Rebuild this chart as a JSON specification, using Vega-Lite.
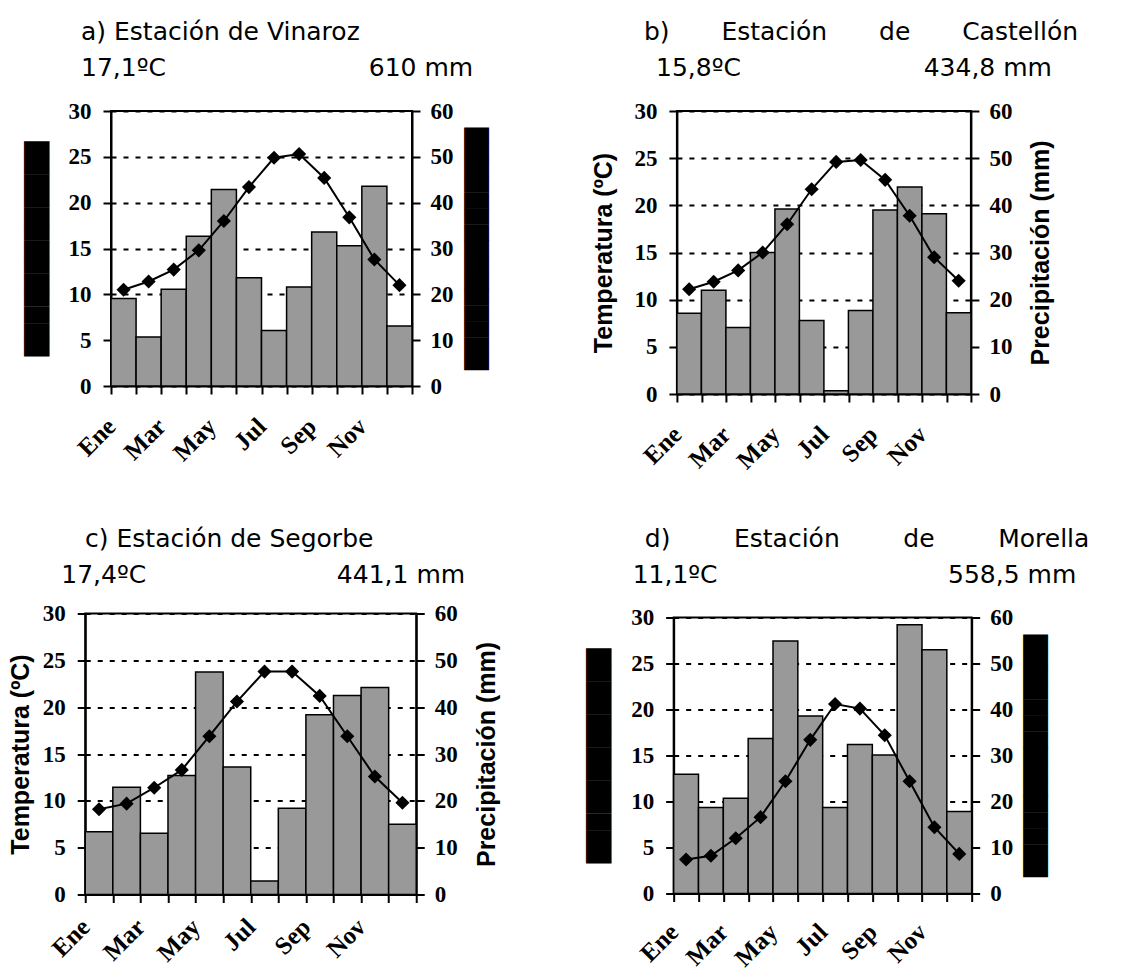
{
  "$schema": "https://vega.github.io/schema/vega-lite/v6.json",
  "padding": {"left": 7, "top": 19, "right": 2, "bottom": 2},
  "datasets": {
    "vinaroz": [
      {"mes": "Ene", "temp": 10.5, "precip": 19.1},
      {"mes": "Feb", "temp": 11.4, "precip": 10.7},
      {"mes": "Mar", "temp": 12.7, "precip": 21.1},
      {"mes": "Abr", "temp": 14.8, "precip": 32.7},
      {"mes": "May", "temp": 18.0, "precip": 42.9},
      {"mes": "Jun", "temp": 21.7, "precip": 23.6},
      {"mes": "Jul", "temp": 24.9, "precip": 12.1},
      {"mes": "Ago", "temp": 25.3, "precip": 21.6},
      {"mes": "Sep", "temp": 22.7, "precip": 33.6},
      {"mes": "Oct", "temp": 18.4, "precip": 30.6},
      {"mes": "Nov", "temp": 13.8, "precip": 43.6},
      {"mes": "Dic", "temp": 11.0, "precip": 13.1}
    ],
    "castellon": [
      {"mes": "Ene", "temp": 11.1, "precip": 17.1},
      {"mes": "Feb", "temp": 11.9, "precip": 22.0},
      {"mes": "Mar", "temp": 13.1, "precip": 14.1},
      {"mes": "Abr", "temp": 15.0, "precip": 30.0},
      {"mes": "May", "temp": 18.0, "precip": 39.2},
      {"mes": "Jun", "temp": 21.7, "precip": 15.6},
      {"mes": "Jul", "temp": 24.6, "precip": 0.7},
      {"mes": "Ago", "temp": 24.8, "precip": 17.7},
      {"mes": "Sep", "temp": 22.7, "precip": 39.0},
      {"mes": "Oct", "temp": 18.9, "precip": 43.9},
      {"mes": "Nov", "temp": 14.5, "precip": 38.2},
      {"mes": "Dic", "temp": 12.0, "precip": 17.2}
    ],
    "segorbe": [
      {"mes": "Ene", "temp": 9.1, "precip": 13.4},
      {"mes": "Feb", "temp": 9.7, "precip": 22.9},
      {"mes": "Mar", "temp": 11.4, "precip": 13.1},
      {"mes": "Abr", "temp": 13.3, "precip": 25.4},
      {"mes": "May", "temp": 16.9, "precip": 47.5},
      {"mes": "Jun", "temp": 20.6, "precip": 27.2},
      {"mes": "Jul", "temp": 23.8, "precip": 2.9},
      {"mes": "Ago", "temp": 23.8, "precip": 18.4},
      {"mes": "Sep", "temp": 21.2, "precip": 38.4},
      {"mes": "Oct", "temp": 16.9, "precip": 42.5},
      {"mes": "Nov", "temp": 12.6, "precip": 44.2},
      {"mes": "Dic", "temp": 9.8, "precip": 15.0}
    ],
    "morella": [
      {"mes": "Ene", "temp": 3.7, "precip": 25.9},
      {"mes": "Feb", "temp": 4.1, "precip": 18.7},
      {"mes": "Mar", "temp": 6.0, "precip": 20.7},
      {"mes": "Abr", "temp": 8.3, "precip": 33.7},
      {"mes": "May", "temp": 12.2, "precip": 54.9},
      {"mes": "Jun", "temp": 16.7, "precip": 38.6},
      {"mes": "Jul", "temp": 20.6, "precip": 18.7},
      {"mes": "Ago", "temp": 20.1, "precip": 32.4},
      {"mes": "Sep", "temp": 17.2, "precip": 30.1},
      {"mes": "Oct", "temp": 12.2, "precip": 58.4},
      {"mes": "Nov", "temp": 7.2, "precip": 53.0},
      {"mes": "Dic", "temp": 4.3, "precip": 17.8}
    ]
  },
  "hconcat": [
    {
      "vconcat": [
        {
          "width": 301, "height": 275,
          "title": {"text": ["a) Estación de Vinaroz", "17,1ºC\u00a0\u00a0\u00a0\u00a0\u00a0\u00a0\u00a0\u00a0\u00a0\u00a0\u00a0\u00a0\u00a0\u00a0\u00a0\u00a0\u00a0\u00a0\u00a0\u00a0\u00a0\u00a0\u00a0\u00a0\u00a0\u2006610 mm"], "dx": -30, "offset": 19},
          "data": {"name": "vinaroz"},
          "encoding": {
            "x": {"field": "mes", "type": "nominal", "sort": null, "scale": {"paddingInner": 0, "paddingOuter": 0},
                  "axis": {"title": null, "tickBand": "extent", "labelOffset": -12.5, "labelAngle": -45, "labelAlign": "right", "labelBaseline": "middle", "labelPadding": 28, "labelFontSize": 25, "labelOverlap": false,
                           "labelExpr": "indexof(['Ene','Mar','May','Jul','Sep','Nov'], datum.value) >= 0 ? datum.value : ''"}}
          },
          "layer": [
            {"mark": {"type": "bar", "fill": "#999999", "stroke": "black", "strokeWidth": 1.5},
             "encoding": {"y": {"field": "precip", "type": "quantitative", "scale": {"domain": [0, 60]},
                                "axis": {"orient": "right", "values": [0, 10, 20, 30, 40, 50, 60], "grid": false, "labelPadding": 10,
                                         "title": "\u2588\u2588\u2588\u2588\u2588\u2588\u2588\u2588\u2588\u2588\u2588\u2588\u2588\u2588\u2588", "titleFont": "DejaVu Sans", "titleFontWeight": "normal", "titleFontSize": 21, "titleAngle": 270, "titleBaseline": "top", "titlePadding": 13}}}},
            {"mark": {"type": "line", "color": "black", "strokeWidth": 2, "point": {"shape": "diamond", "filled": true, "color": "black", "size": 200}},
             "encoding": {"y": {"field": "temp", "type": "quantitative", "scale": {"domain": [0, 30]},
                                "axis": {"orient": "left", "values": [0, 5, 10, 15, 20, 25, 30], "grid": true, "gridColor": "black", "gridWidth": 2, "gridDash": [5, 7], "labelPadding": 12,
                                         "title": "\u2588\u2588\u2588\u2588\u2588\u2588\u2588\u2588\u2588\u2588\u2588\u2588\u2588", "titleFont": "DejaVu Sans", "titleFontWeight": "normal", "titleFontSize": 21.5, "titlePadding": 20}}}}
          ],
          "resolve": {"scale": {"y": "independent"}}
        },
        {
          "width": 331, "height": 281,
          "title": {"text": ["\u200b\u00a0\u00a0\u00a0c) Estación de Segorbe", "17,4ºC\u00a0\u00a0\u00a0\u00a0\u00a0\u00a0\u00a0\u00a0\u00a0\u00a0\u00a0\u00a0\u00a0\u00a0\u00a0\u00a0\u00a0\u00a0\u00a0\u00a0\u00a0\u00a0\u00a0\u00a0441,1 mm\u00a0\u00a0\u00a0\u00a0\u00a0\u00a0\u200b"], "dx": -24, "offset": 15},
          "data": {"name": "segorbe"},
          "encoding": {
            "x": {"field": "mes", "type": "nominal", "sort": null, "scale": {"paddingInner": 0, "paddingOuter": 0},
                  "axis": {"title": null, "tickBand": "extent", "labelOffset": -13.8, "labelAngle": -45, "labelAlign": "right", "labelBaseline": "middle", "labelPadding": 20, "labelFontSize": 25, "labelOverlap": false,
                           "labelExpr": "indexof(['Ene','Mar','May','Jul','Sep','Nov'], datum.value) >= 0 ? datum.value : ''"}}
          },
          "layer": [
            {"mark": {"type": "bar", "fill": "#999999", "stroke": "black", "strokeWidth": 1.5},
             "encoding": {"y": {"field": "precip", "type": "quantitative", "scale": {"domain": [0, 60]},
                                "axis": {"orient": "right", "values": [0, 10, 20, 30, 40, 50, 60], "grid": false, "labelPadding": 10,
                                         "title": "Precipitación (mm)", "titleAngle": 270, "titleBaseline": "top", "titlePadding": 17}}}},
            {"mark": {"type": "line", "color": "black", "strokeWidth": 2, "point": {"shape": "diamond", "filled": true, "color": "black", "size": 200}},
             "encoding": {"y": {"field": "temp", "type": "quantitative", "scale": {"domain": [0, 30]},
                                "axis": {"orient": "left", "values": [0, 5, 10, 15, 20, 25, 30], "grid": true, "gridColor": "black", "gridWidth": 2, "gridDash": [5, 7], "labelPadding": 12,
                                         "title": "Temperatura (ºC)", "titlePadding": 9}}}}
          ],
          "resolve": {"scale": {"y": "independent"}}
        }
      ],
      "center": true,
      "spacing": 58.5
    },
    {
      "vconcat": [
        {
          "width": 294, "height": 283,
          "title": {"text": ["b)\u00a0\u00a0\u00a0\u00a0\u00a0\u00a0\u2006Estación\u00a0\u00a0\u00a0\u00a0\u00a0\u00a0\u2006de\u00a0\u00a0\u00a0\u00a0\u00a0\u00a0\u2006Castellón\u00a0\u200b", "\u200b\u00a0\u200615,8ºC\u00a0\u00a0\u00a0\u00a0\u00a0\u00a0\u00a0\u00a0\u00a0\u00a0\u00a0\u00a0\u00a0\u00a0\u00a0\u00a0\u00a0\u00a0\u00a0\u00a0\u00a0\u00a0\u00a0434,8 mm"], "dx": -33, "offset": 19},
          "data": {"name": "castellon"},
          "encoding": {
            "x": {"field": "mes", "type": "nominal", "sort": null, "scale": {"paddingInner": 0, "paddingOuter": 0},
                  "axis": {"title": null, "tickBand": "extent", "labelOffset": -12.25, "labelAngle": -45, "labelAlign": "right", "labelBaseline": "middle", "labelPadding": 28, "labelFontSize": 25, "labelOverlap": false,
                           "labelExpr": "indexof(['Ene','Mar','May','Jul','Sep','Nov'], datum.value) >= 0 ? datum.value : ''"}}
          },
          "layer": [
            {"mark": {"type": "bar", "fill": "#999999", "stroke": "black", "strokeWidth": 1.5},
             "encoding": {"y": {"field": "precip", "type": "quantitative", "scale": {"domain": [0, 60]},
                                "axis": {"orient": "right", "values": [0, 10, 20, 30, 40, 50, 60], "grid": false, "labelPadding": 10,
                                         "title": "Precipitación (mm)", "titleAngle": 270, "titleBaseline": "top", "titlePadding": 17}}}},
            {"mark": {"type": "line", "color": "black", "strokeWidth": 2, "point": {"shape": "diamond", "filled": true, "color": "black", "size": 200}},
             "encoding": {"y": {"field": "temp", "type": "quantitative", "scale": {"domain": [0, 30]},
                                "axis": {"orient": "left", "values": [0, 5, 10, 15, 20, 25, 30], "grid": true, "gridColor": "black", "gridWidth": 2, "gridDash": [5, 7], "labelPadding": 12,
                                         "title": "Temperatura (ºC)", "titlePadding": 17}}}}
          ],
          "resolve": {"scale": {"y": "independent"}}
        },
        {
          "width": 298, "height": 276,
          "title": {"text": ["\u200b\u00a0\u2006d)\u00a0\u00a0\u00a0\u00a0\u00a0\u00a0\u00a0\u00a0Estación\u00a0\u00a0\u00a0\u00a0\u00a0\u00a0\u00a0\u00a0de\u00a0\u00a0\u00a0\u00a0\u00a0\u00a0\u00a0\u00a0Morella", "11,1ºC\u00a0\u00a0\u00a0\u00a0\u00a0\u00a0\u00a0\u00a0\u00a0\u00a0\u00a0\u00a0\u00a0\u00a0\u00a0\u00a0\u00a0\u00a0\u00a0\u00a0\u00a0\u00a0\u00a0\u00a0\u00a0\u00a0\u00a0\u00a0\u00a0558,5 mm"], "dx": -41, "offset": 19},
          "data": {"name": "morella"},
          "encoding": {
            "x": {"field": "mes", "type": "nominal", "sort": null, "scale": {"paddingInner": 0, "paddingOuter": 0},
                  "axis": {"title": null, "tickBand": "extent", "labelOffset": -12.4, "labelAngle": -45, "labelAlign": "right", "labelBaseline": "middle", "labelPadding": 26, "labelFontSize": 25, "labelOverlap": false,
                           "labelExpr": "indexof(['Ene','Mar','May','Jul','Sep','Nov'], datum.value) >= 0 ? datum.value : ''"}}
          },
          "layer": [
            {"mark": {"type": "bar", "fill": "#999999", "stroke": "black", "strokeWidth": 1.5},
             "encoding": {"y": {"field": "precip", "type": "quantitative", "scale": {"domain": [0, 60]},
                                "axis": {"orient": "right", "values": [0, 10, 20, 30, 40, 50, 60], "grid": false, "labelPadding": 10,
                                         "title": "\u2588\u2588\u2588\u2588\u2588\u2588\u2588\u2588\u2588\u2588\u2588\u2588\u2588\u2588\u2588", "titleFont": "DejaVu Sans", "titleFontWeight": "normal", "titleFontSize": 21, "titleAngle": 270, "titleBaseline": "top", "titlePadding": 13}}}},
            {"mark": {"type": "line", "color": "black", "strokeWidth": 2, "point": {"shape": "diamond", "filled": true, "color": "black", "size": 200}},
             "encoding": {"y": {"field": "temp", "type": "quantitative", "scale": {"domain": [0, 30]},
                                "axis": {"orient": "left", "values": [0, 5, 10, 15, 20, 25, 30], "grid": true, "gridColor": "black", "gridWidth": 2, "gridDash": [5, 7], "labelPadding": 12,
                                         "title": "\u2588\u2588\u2588\u2588\u2588\u2588\u2588\u2588\u2588\u2588\u2588\u2588\u2588", "titleFont": "DejaVu Sans", "titleFontWeight": "normal", "titleFontSize": 21.5, "titlePadding": 20}}}}
          ],
          "resolve": {"scale": {"y": "independent"}}
        }
      ],
      "center": true,
      "spacing": 50.5
    }
  ],
  "spacing": 73.5,
  "config": {
    "view": {"stroke": "black", "strokeWidth": 2},
    "axis": {"domainColor": "black", "domainWidth": 2, "tickColor": "black", "tickWidth": 2, "tickSize": 8,
             "labelColor": "black", "labelFont": "Liberation Serif", "labelFontWeight": "bold", "labelFontSize": 23,
             "titleFont": "Liberation Sans", "titleFontWeight": "bold", "titleFontSize": 25, "titleColor": "black"},
    "title": {"font": "DejaVu Sans", "fontSize": 25, "fontWeight": "normal", "color": "black", "anchor": "start", "frame": "group", "lineHeight": 36}
  }
}
